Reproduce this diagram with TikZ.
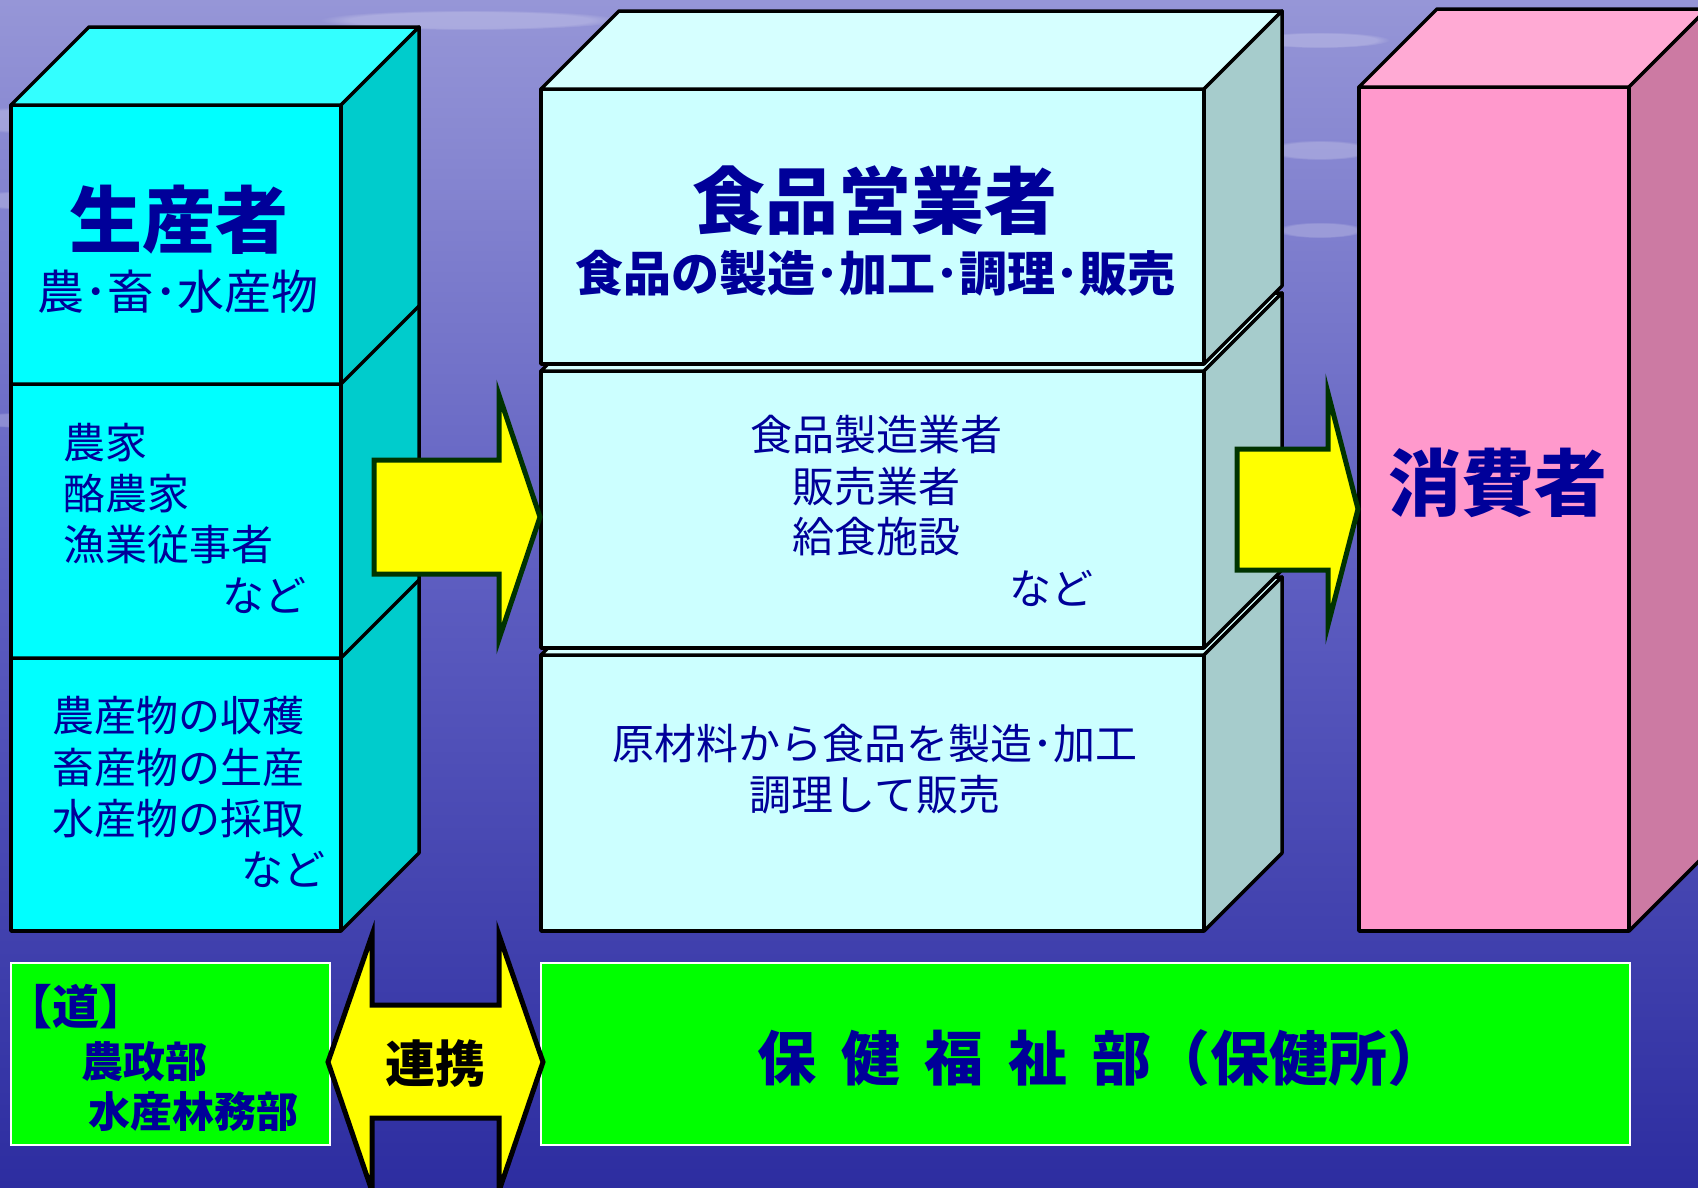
\documentclass[tikz,border=0pt]{standalone}
\usepackage{fontspec}
\newfontfamily\jp{Noto Sans CJK JP}
\usetikzlibrary{fadings}
\definecolor{cyanF}{RGB}{0,255,255}
\definecolor{cyanT}{RGB}{51,255,255}
\definecolor{cyanS}{RGB}{0,204,204}
\definecolor{midF}{RGB}{204,255,255}
\definecolor{midT}{RGB}{214,255,255}
\definecolor{midS}{RGB}{166,204,204}
\definecolor{pinkF}{RGB}{255,153,204}
\definecolor{pinkT}{RGB}{255,170,212}
\definecolor{pinkS}{RGB}{204,122,163}
\definecolor{grn}{RGB}{0,255,0}
\definecolor{yel}{RGB}{255,255,0}
\definecolor{arrowedge}{RGB}{0,51,0}
\definecolor{navy}{RGB}{0,0,153}
\definecolor{bgTop}{RGB}{150,150,215}
\definecolor{bgMid}{RGB}{92,92,192}
\definecolor{bgBot}{RGB}{45,45,160}
\begin{document}
\begin{tikzpicture}[x=1pt,y=-1pt,
  face/.style={draw=black,line width=3.5pt,line join=round},
  front/.style={face,anchor=north west,inner sep=0pt,outer sep=0pt},
  gbox/.style={draw=white,line width=1.5pt,fill=grn,anchor=north west,inner sep=0pt,outer sep=0pt},
  flow/.style={draw=arrowedge,line width=5pt,fill=yel,line join=miter},
  link/.style={draw=black,line width=5pt,fill=yel,line join=miter},
  streak/.style={white,opacity=0.22,path fading=circle with fuzzy edge 20 percent},
  txt/.style={inner sep=0pt,text=navy,font=\jp\fontsize{42}{50}\selectfont},
  big/.style={inner sep=0pt,text=navy,font=\jp\bfseries\fontsize{73}{80}\selectfont},
  bold/.style={inner sep=0pt,text=navy,font=\jp\bfseries\fontsize{42}{50}\selectfont}]
\useasboundingbox (0,0) rectangle (1698,1187);
\clip (0,0) rectangle (1698,1187);
% background
\shade[top color=bgTop,bottom color=bgBot,middle color=bgMid] (0,0) rectangle (1698,1187);
\fill[streak] (50,120) ellipse (110 and 14);
\fill[streak] (40,200) ellipse (80 and 10);
\fill[streak] (30,420) ellipse (70 and 8);
\fill[streak] (470,20) ellipse (150 and 10);
\fill[streak] (1320,150) ellipse (55 and 10);
\fill[streak] (1320,230) ellipse (45 and 8);
\fill[streak] (1320,40) ellipse (70 and 8);

% ---------------- producer cuboid ----------------
\node[front,fill=cyanF,minimum width=330pt,minimum height=826pt] (prod) at (11,105) {};
\path[face,fill=cyanT] (prod.north west) -- ++(78,-78) -- ++(330,0) -- (prod.north east) -- cycle;
\path[face,fill=cyanS] (prod.north east) -- ++(78,-78) -- ++(0,826) -- (prod.south east) -- cycle;
\draw[face] (11,384) -- (341,384) -- ++(78,-78);
\draw[face] (11,658) -- (341,658) -- ++(78,-78);

% ---------------- food business cuboids ----------------
\node[front,fill=midF,minimum width=663pt,minimum height=276pt] (biz3) at (541,655) {};
\path[face,fill=midT] (biz3.north west) -- ++(78,-78) -- ++(663,0) -- (biz3.north east) -- cycle;
\path[face,fill=midS] (biz3.north east) -- ++(78,-78) -- ++(0,276) -- (biz3.south east) -- cycle;
\node[front,fill=midF,minimum width=663pt,minimum height=277pt] (biz2) at (541,371) {};
\path[face,fill=midT] (biz2.north west) -- ++(78,-78) -- ++(663,0) -- (biz2.north east) -- cycle;
\path[face,fill=midS] (biz2.north east) -- ++(78,-78) -- ++(0,277) -- (biz2.south east) -- cycle;
\node[front,fill=midF,minimum width=663pt,minimum height=275pt] (biz1) at (541,89) {};
\path[face,fill=midT] (biz1.north west) -- ++(78,-78) -- ++(663,0) -- (biz1.north east) -- cycle;
\path[face,fill=midS] (biz1.north east) -- ++(78,-78) -- ++(0,275) -- (biz1.south east) -- cycle;

% ---------------- consumer cuboid ----------------
\node[front,fill=pinkF,minimum width=270pt,minimum height=844pt] (cons) at (1359,87) {};
\path[face,fill=pinkT] (cons.north west) -- ++(78,-78) -- ++(270,0) -- (cons.north east) -- cycle;
\path[face,fill=pinkS] (cons.north east) -- ++(78,-78) -- ++(0,844) -- (cons.south east) -- cycle;

% ---------------- flow arrows ----------------
\coordinate (a1) at (540,517);
\draw[flow] (374,460) -- (499,460) -- (499,395) -- (a1) -- (499,639) -- (499,574) -- (374,574) -- cycle;
\coordinate (a2) at (1358,509);
\draw[flow] (1237,449) -- (1328,449) -- (1328,393) -- (a2) -- (1328,625) -- (1328,570) -- (1237,570) -- cycle;

% ---------------- bottom boxes ----------------
\node[gbox,minimum width=319pt,minimum height=182pt] (dou) at (11,963) {};
\node[gbox,minimum width=1089pt,minimum height=182pt] (hoken) at (541,963) {};
\draw[link] (328,1062) -- (372,935) -- (372,1005) -- (499,1005) -- (499,935) -- (543,1062)
  -- (499,1191) -- (499,1118) -- (372,1118) -- (372,1191) -- cycle;

% ---------------- texts ----------------
\node[big] (t1) at (179,220) {生産者};
\node[txt,font=\jp\fontsize{47}{50}\selectfont] (t2) at (178,292) {農･畜･水産物};
\node[txt,anchor=west] (t3) at (63,443) {農家};
\node[txt,anchor=west] (t4) at (63,494) {酪農家};
\node[txt,anchor=west] (t5) at (63,545) {漁業従事者};
\node[txt,anchor=east] (t6) at (307,595) {など};
\node[txt,anchor=west] (t7) at (52,716) {農産物の収穫};
\node[txt,anchor=west] (t8) at (52,768) {畜産物の生産};
\node[txt,anchor=west] (t9) at (52,819) {水産物の採取};
\node[txt,anchor=east] (t10) at (326,869) {など};

\node[big] (m1) at (875,201) {食品営業者};
\node[bold,font=\jp\bfseries\fontsize{48}{50}\selectfont] (m2) at (875,273) {食品の製造･加工･調理･販売};
\node[txt] (m3) at (876,435) {食品製造業者};
\node[txt] (m4) at (876,487) {販売業者};
\node[txt] (m5) at (876,537) {給食施設};
\node[txt,anchor=east] (m6) at (1094,588) {など};
\node[txt] (m7) at (875,744) {原材料から食品を製造･加工};
\node[txt] (m8) at (875,795) {調理して販売};

\node[big] (c1) at (1498,483) {消費者};

\node[bold,anchor=west,font=\jp\bfseries\fontsize{47}{50}\selectfont] (d1) at (5,1007) {【道】};
\node[bold,anchor=west] (d2) at (81,1062) {農政部};
\node[bold,anchor=west] (d3) at (88,1112) {水産林務部};
\node[inner sep=0pt,font=\jp\bfseries\fontsize{50}{55}\selectfont,text=black] (r1) at (435,1064) {連携};
\node[bold,font=\jp\bfseries\fontsize{59}{62}\selectfont] (h1) at (1102,1058)
  {保\hspace{0.42em}健\hspace{0.42em}福\hspace{0.42em}祉\hspace{0.42em}部（保健所）};
\end{tikzpicture}
\end{document}
